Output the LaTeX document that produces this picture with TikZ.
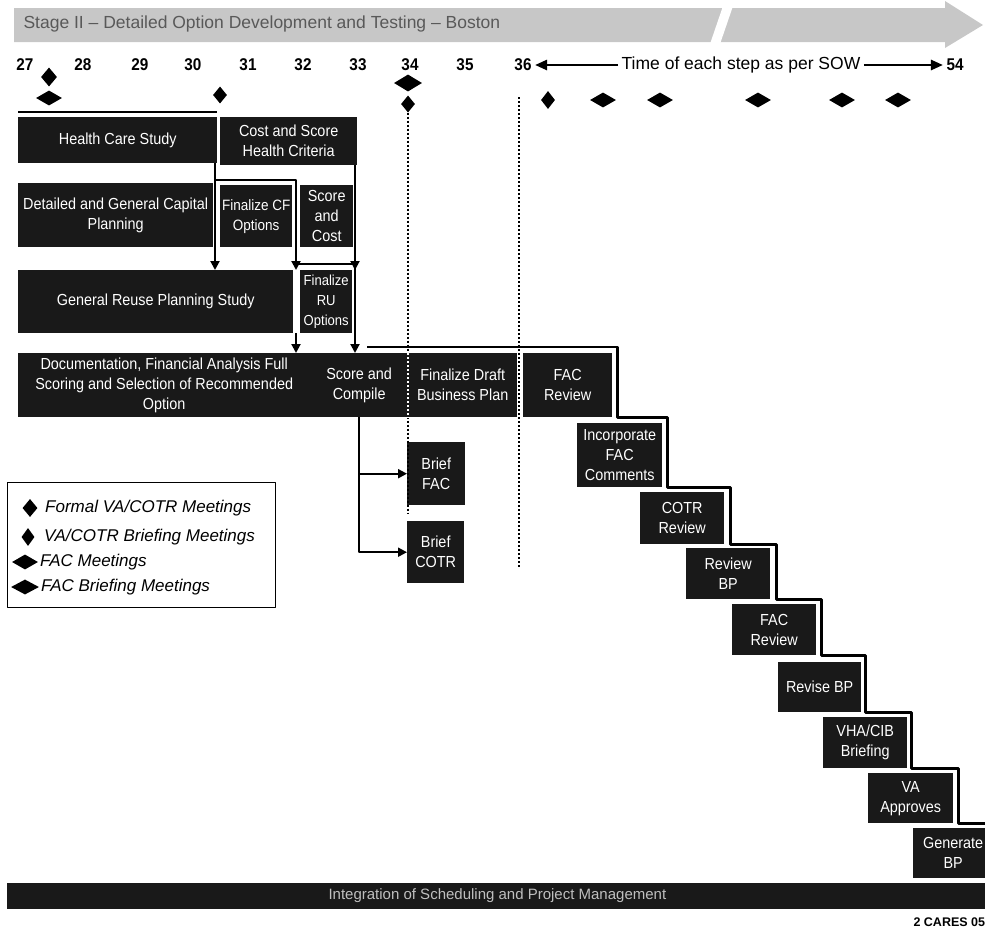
\documentclass[tikz,border=0pt]{standalone}
\usepackage{fontspec}
\setmainfont{Liberation Sans}
\newfontfamily\boxfont[FakeStretch=0.9]{Liberation Sans}
\usetikzlibrary{calc}
\usetikzlibrary{arrows.meta}
\usetikzlibrary{shapes.geometric}

\tikzset{
  task/.style = {fill=black!90, text=white, align=center, inner sep=0pt, anchor=north west,
                 font=\boxfont\fontsize{16}{20}\selectfont},
  flow/.style = {line width=2pt, -{Triangle[width=9pt,length=9pt]}},
  stair/.style = {line width=2.2pt},
  tick/.style = {font=\boxfont\bfseries\fontsize{17}{17}\selectfont},
  formal/.style = {diamond, fill=black, inner sep=0pt, minimum width=16pt, minimum height=19pt},
  vabrief/.style = {diamond, fill=black, inner sep=0pt, minimum width=14pt, minimum height=17pt},
  facmtg/.style = {diamond, fill=black, inner sep=0pt, minimum width=26pt, minimum height=15pt},
  keytext/.style = {anchor=west, inner sep=0pt, font=\itshape\fontsize{17}{17}\selectfont},
  gatedot/.style = {line width=1.6pt, dash pattern=on 2pt off 2pt}
}

\begin{document}
\begin{tikzpicture}[x=1pt, y=-1pt, % pixel grid, y runs downwards
                    line join=round]
  \useasboundingbox (0,0) rectangle (985,929);

  % banner
  \fill[black!22] (14,8) -- (945,8) -- (945,1) -- (983,25) -- (945,48) -- (945,42) -- (14,42) -- cycle;
  \fill[white] (710,44) -- (723,6) -- (733,6) -- (720,44) -- cycle;
  \node[anchor=west, text=black!65, font=\fontsize{17.5}{17.5}\selectfont] (stage) at (20,24)
       {Stage II – Detailed Option Development and Testing – Boston};

  % months
  \foreach \n/\x in {27/25,28/83,29/140,30/193,31/248,32/303,33/358,34/410,35/465,36/523,54/955}
    \node[tick] (t\n) at (\x,65) {\n};
  \node[font=\fontsize{17.5}{17.5}\selectfont] (sow) at (741,65) {Time of each step as per SOW};
  \draw[line width=2.5pt, -{Triangle[width=10pt,length=12pt]}] (sow.west) -- (t36.east);
  \draw[line width=2.5pt, -{Triangle[width=10pt,length=12pt]}] (sow.east) -- (t54.west);

  % meetings
  \node[formal] (m27a) at (49,77) {};
  \node[facmtg] (m27b) at (49,98) {};
  \node[vabrief] (m30) at (220,95) {};
  \node[facmtg, minimum width=28pt, minimum height=17pt] (m34a) at (408,83) {};
  \node[vabrief] (m34b) at (408,104) {};
  \node[vabrief, minimum height=18pt] (m36) at (548,100) {};
  \foreach \x [count=\i] in {603,660,758,842,898}
    \node[facmtg] (mf\i) at (\x,100) {};

  % tasks
  \node[task, minimum width=199, minimum height=46] (hcs) at (18,117) {Health Care Study};
  \node[task, minimum width=137, minimum height=48] (chc) at (220,117) {Cost and Score\\Health Criteria};
  \node[task, minimum width=195, minimum height=64] (dgc) at (18,183) {Detailed and General Capital\\Planning};
  \node[task, minimum width=72, minimum height=62, font=\boxfont\fontsize{15}{20}\selectfont] (fcf) at (220,185) {Finalize CF\\Options};
  \node[task, minimum width=53, minimum height=62] (sac) at (300,185) {Score\\and\\Cost};
  \node[task, minimum width=275, minimum height=63] (grp) at (18,270) {General Reuse Planning Study};
  \node[task, minimum width=52, minimum height=63, font=\boxfont\fontsize{14.5}{20}\selectfont] (fru) at (300,270) {Finalize\\RU\\Options};
  \node[task, minimum width=292, minimum height=64] (doc) at (18,353)
       {Documentation, Financial Analysis Full\\Scoring and Selection of Recommended\\Option};
  \node[task, minimum width=98, minimum height=64] (scc) at (310,353) {Score and\\Compile};
  \node[task, minimum width=109, minimum height=64] (fdb) at (408,353) {Finalize Draft\\Business Plan};
  \node[task, minimum width=89, minimum height=64] (fac1) at (523,353) {FAC\\Review};
  \node[task, minimum width=58, minimum height=63] (bfac) at (407,442) {Brief\\FAC};
  \node[task, minimum width=57, minimum height=62] (bcotr) at (407,521) {Brief\\COTR};
  \node[task, minimum width=85, minimum height=64] (ifc) at (577,423) {Incorporate\\FAC\\Comments};
  \node[task, minimum width=84, minimum height=52] (cotr) at (640,492) {COTR\\Review};
  \node[task, minimum width=84, minimum height=51] (rbp) at (686,548) {Review\\BP};
  \node[task, minimum width=84, minimum height=51] (fac2) at (732,604) {FAC\\Review};
  \node[task, minimum width=83, minimum height=50] (rvbp) at (778,662) {Revise BP};
  \node[task, minimum width=84, minimum height=51] (vha) at (823,717) {VHA/CIB\\Briefing};
  \node[task, minimum width=85, minimum height=50] (vaa) at (868,773) {VA\\Approves};
  \node[task, minimum width=80, minimum height=50] (gbp) at (913,828) {Generate\\BP};

  % links
  \draw[stair] ([yshift=5pt]hcs.north west) -- ([yshift=5pt]hcs.north east);
  \coordinate (j1) at (215,180);
  \coordinate (j2) at (355,264);
  \coordinate (j3) at (296,333);
  \draw[flow] (hcs.south -| j1) -- (grp.north -| j1);
  \draw[flow] (j1) -| ([xshift=-4pt]fru.north west);
  \draw[stair] ([xshift=-4pt,yshift=6pt]fru.north west) -- (j2);
  \draw[flow] (chc.south east -| j2) -- (fru.north -| j2);
  \draw[flow] (j2) -- (scc.north -| j2);
  \draw[flow] (j3) -- (doc.north -| j3);
  \draw[flow] (scc.south) |- (bfac.west);
  \draw[flow] (scc.south) |- (bcotr.west);
  \draw[stair] ([shift={(8,-6)}]scc.north) -| ([xshift=5pt]fac1.south east)
     -| ([xshift=5pt]ifc.south east) -| ([xshift=6pt]cotr.south east)
     -| ([xshift=6pt]rbp.south east) -| ([xshift=5pt]fac2.south east)
     -| ([xshift=4pt]rvbp.south east) -| ([xshift=4pt]vha.south east)
     -| ([xshift=5pt]vaa.south east) -- ++(40,0);

  % gates
  \coordinate (g34) at (408,513);
  \coordinate (g36a) at (519,97);
  \coordinate (g36b) at (519,567);
  \draw[gatedot] (m34b.south) -- (g34);
  \draw[gatedot, white] (fdb.north west) -- (fdb.south west);
  \draw[gatedot] (g36a) -- (g36b);

  % key
  \node[draw, line width=1pt, anchor=north west, minimum width=268, minimum height=125] (key) at (7,482) {};
  \node[formal, minimum width=15pt, minimum height=18pt] (k1) at (30,508) {};
  \node[keytext] (k1t) at (45,508) {Formal VA/COTR Meetings};
  \node[vabrief, minimum width=13pt, minimum height=18pt] (k2) at (28,537) {};
  \node[keytext] (k2t) at (44,537) {VA/COTR Briefing Meetings};
  \node[facmtg] (k3) at (25,562) {};
  \node[keytext] (k3t) at (40,562) {FAC Meetings};
  \node[facmtg, minimum width=28pt] (k4) at (25,587) {};
  \node[keytext] (k4t) at (41,587) {FAC Briefing Meetings};

  % bottom bar
  \node[task, minimum width=978, minimum height=26] (bar) at (7,883) {};
  \node[anchor=west, text=white!75!black, font=\fontsize{15}{15}\selectfont] (barlbl) at (325,896)
       {Integration of Scheduling and Project Management};
  \node[anchor=west, font=\bfseries\fontsize{12.5}{12.5}\selectfont] (ref) at (910,922) {2 CARES 05};
\end{tikzpicture}
\end{document}
